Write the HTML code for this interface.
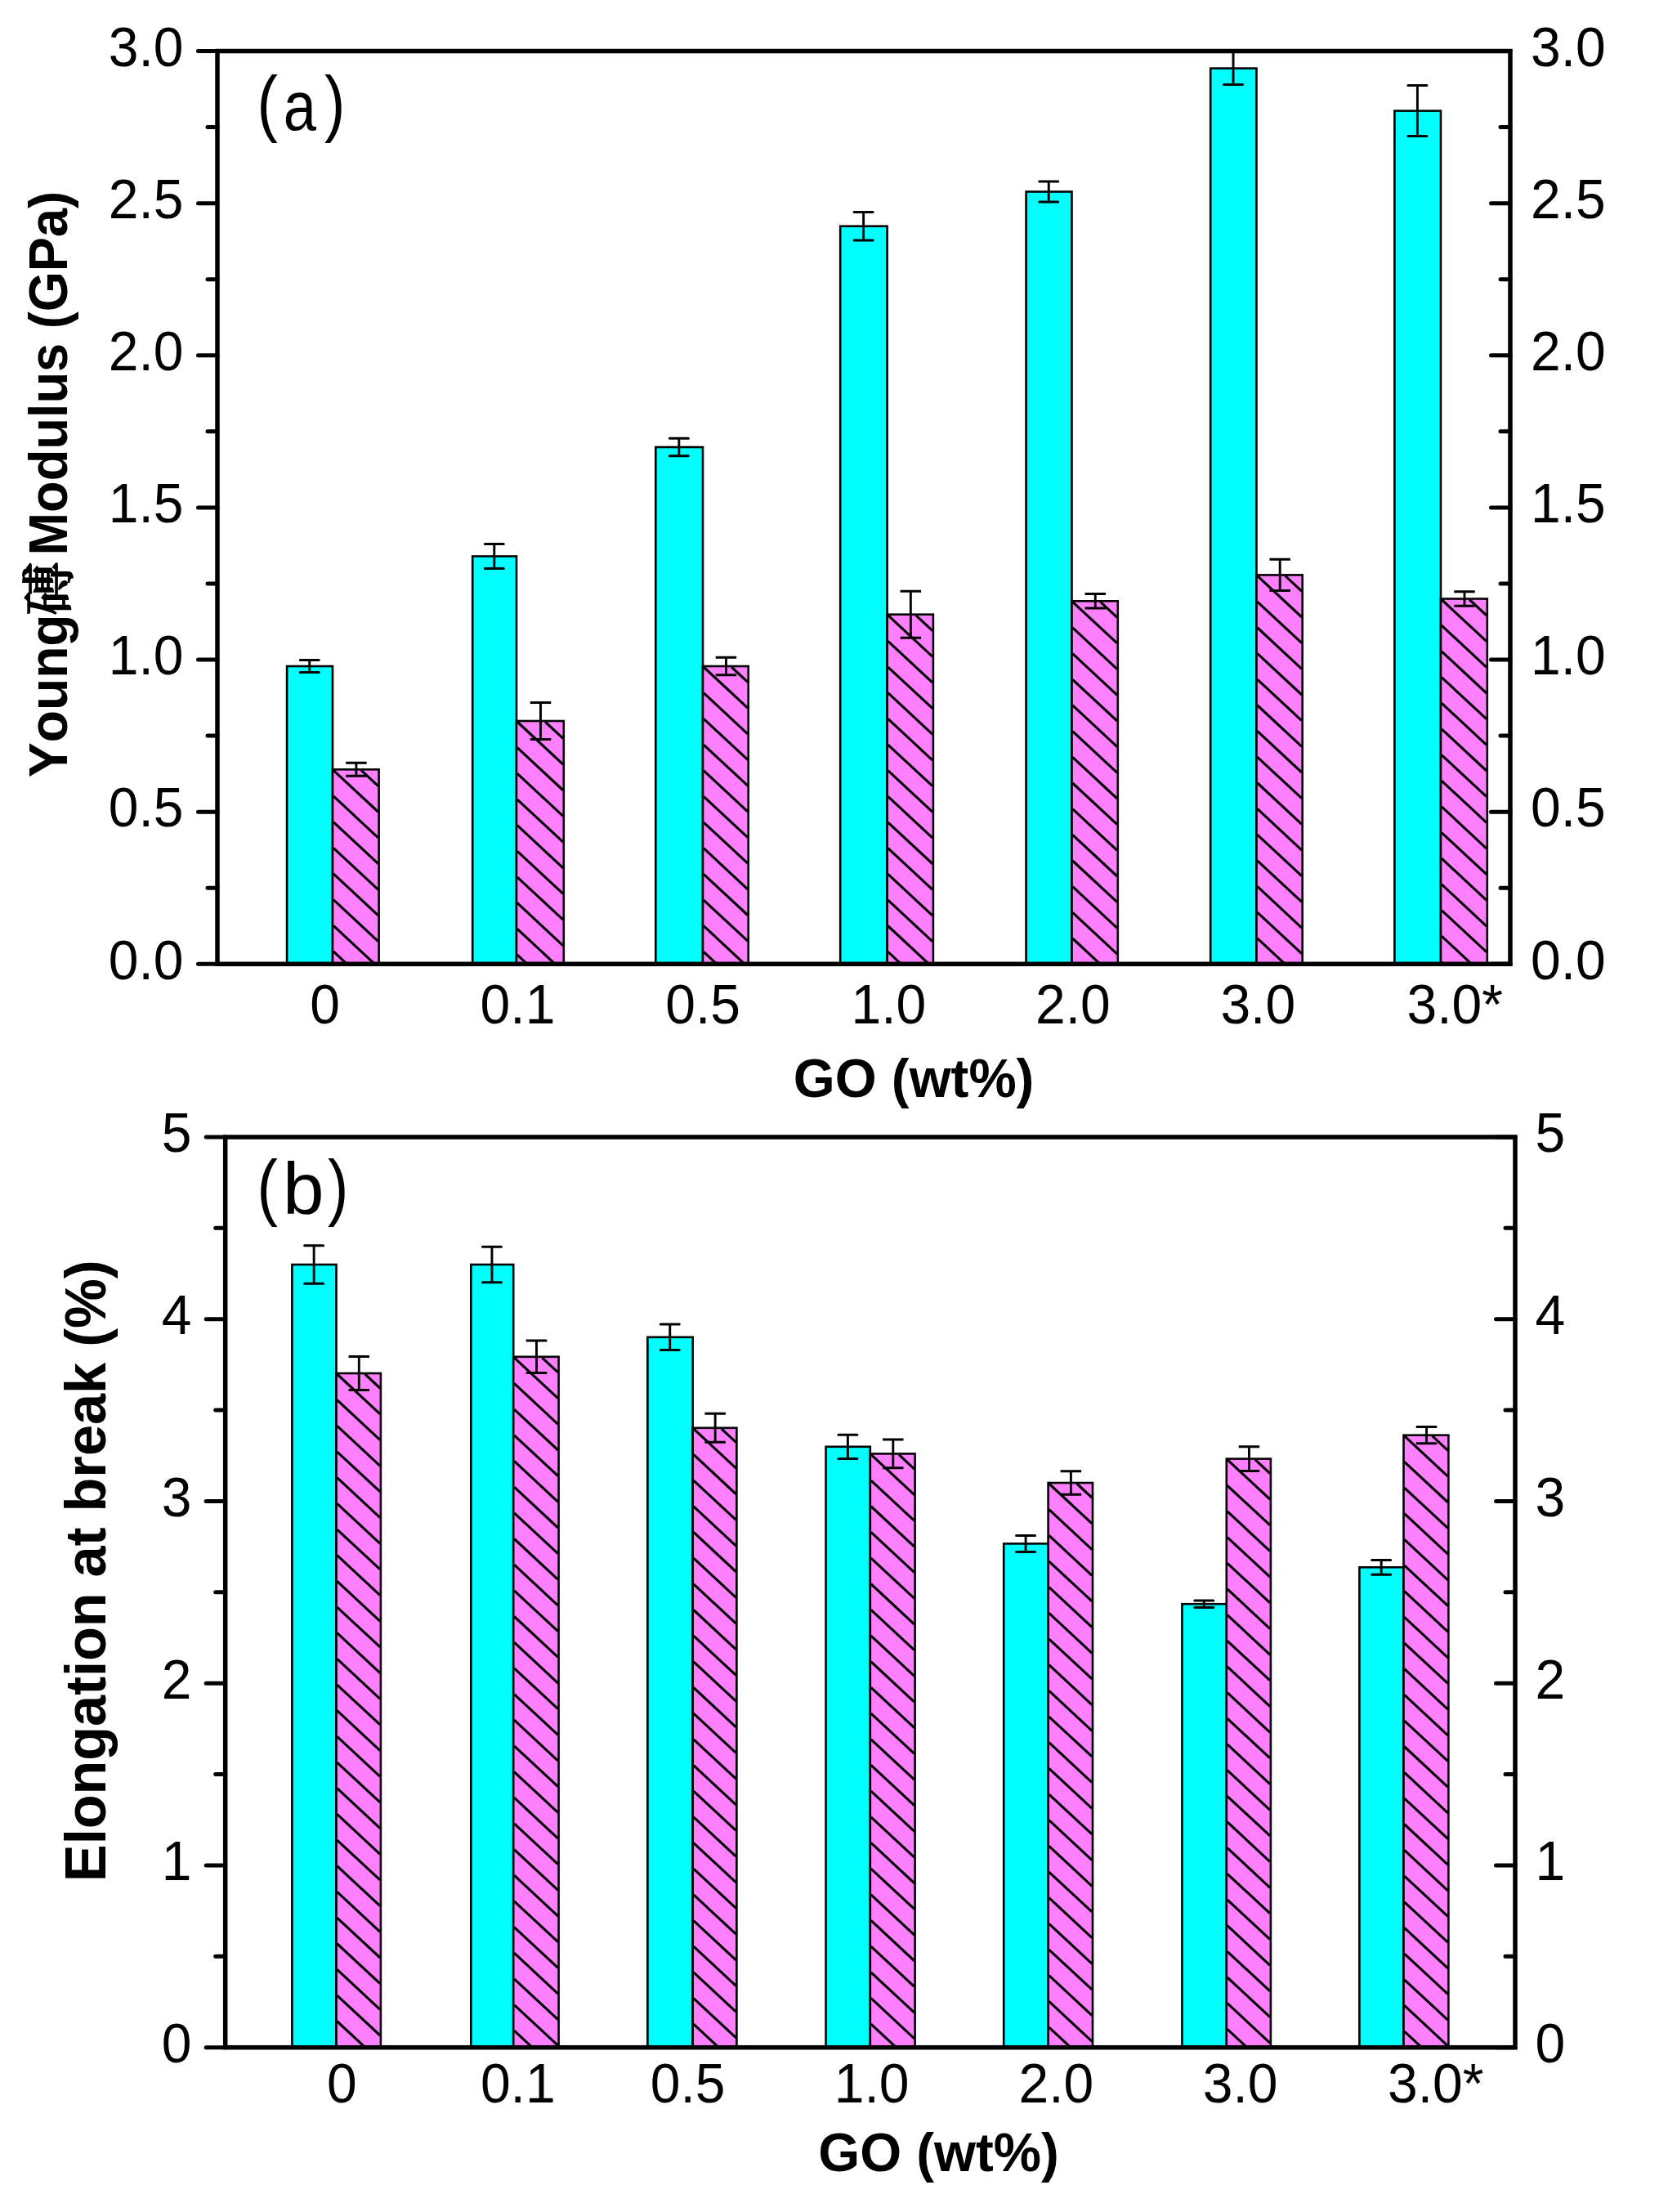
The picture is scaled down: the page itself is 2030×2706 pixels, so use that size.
<!DOCTYPE html><html><head><meta charset="utf-8"><title>Mechanical properties vs GO content</title>
<style>html,body{margin:0;padding:0;background:#fff}svg{display:block}text{font-family:"Liberation Sans","Noto Sans CJK SC",sans-serif;fill:#000;font-kerning:none}</style></head><body>
<svg width="2030" height="2706" viewBox="0 0 2030 2706">
<rect width="2030" height="2706" fill="#fff"/>
<rect x="351.1" y="815" width="55.9" height="364.3" fill="#0ff" stroke="#000" stroke-width="2.6"/>
<rect x="407" y="941.3" width="56.6" height="238" fill="#ff80ff" stroke="#000" stroke-width="2.6"/>
<path d="M442.05 942.3L462.8 961.59M408 942.3L462.8 993.26M408 973.97L462.8 1024.93M408 1005.64L462.8 1056.6M408 1037.31L462.8 1088.27M408 1068.98L462.8 1119.94M408 1100.65L462.8 1151.61M408 1132.32L458.52 1179.3M408 1163.99L424.46 1179.3" stroke="#000" stroke-width="3.1" fill="none"/>
<rect x="578.2" y="680.5" width="53.8" height="498.8" fill="#0ff" stroke="#000" stroke-width="2.6"/>
<rect x="632" y="882" width="57.8" height="297.3" fill="#ff80ff" stroke="#000" stroke-width="2.6"/>
<path d="M667.05 883L689 903.41M633 883L689 935.08M633 914.67L689 966.75M633 946.34L689 998.42M633 978.01L689 1030.09M633 1009.68L689 1061.76M633 1041.35L689 1093.43M633 1073.02L689 1125.1M633 1104.69L689 1156.77M633 1136.36L679.17 1179.3M633 1168.03L645.12 1179.3" stroke="#000" stroke-width="3.1" fill="none"/>
<rect x="802.3" y="547" width="57.7" height="632.3" fill="#0ff" stroke="#000" stroke-width="2.6"/>
<rect x="860" y="815" width="55.7" height="364.3" fill="#ff80ff" stroke="#000" stroke-width="2.6"/>
<path d="M895.05 816L914.9 834.46M861 816L914.9 866.13M861 847.67L914.9 897.8M861 879.34L914.9 929.47M861 911.01L914.9 961.14M861 942.68L914.9 992.81M861 974.35L914.9 1024.48M861 1006.02L914.9 1056.15M861 1037.69L914.9 1087.82M861 1069.36L914.9 1119.49M861 1101.03L914.9 1151.16M861 1132.7L911.11 1179.3M861 1164.37L877.05 1179.3" stroke="#000" stroke-width="3.1" fill="none"/>
<rect x="1028.2" y="276.7" width="57.4" height="902.6" fill="#0ff" stroke="#000" stroke-width="2.6"/>
<rect x="1085.6" y="751.7" width="56.3" height="427.6" fill="#ff80ff" stroke="#000" stroke-width="2.6"/>
<path d="M1120.65 752.7L1141.1 771.72M1086.6 752.7L1141.1 803.38M1086.6 784.37L1141.1 835.06M1086.6 816.04L1141.1 866.73M1086.6 847.71L1141.1 898.39M1086.6 879.38L1141.1 930.07M1086.6 911.05L1141.1 961.74M1086.6 942.72L1141.1 993.4M1086.6 974.39L1141.1 1025.08M1086.6 1006.06L1141.1 1056.75M1086.6 1037.73L1141.1 1088.41M1086.6 1069.4L1141.1 1120.09M1086.6 1101.07L1141.1 1151.76M1086.6 1132.74L1136.66 1179.3M1086.6 1164.41L1102.61 1179.3" stroke="#000" stroke-width="3.1" fill="none"/>
<rect x="1255.6" y="234.5" width="55.9" height="944.8" fill="#0ff" stroke="#000" stroke-width="2.6"/>
<rect x="1311.5" y="735.3" width="56.3" height="444" fill="#ff80ff" stroke="#000" stroke-width="2.6"/>
<path d="M1346.55 736.3L1367 755.32M1312.5 736.3L1367 786.98M1312.5 767.97L1367 818.65M1312.5 799.64L1367 850.33M1312.5 831.31L1367 881.99M1312.5 862.98L1367 913.66M1312.5 894.65L1367 945.34M1312.5 926.32L1367 977M1312.5 957.99L1367 1008.67M1312.5 989.66L1367 1040.35M1312.5 1021.33L1367 1072.01M1312.5 1053L1367 1103.68M1312.5 1084.67L1367 1135.36M1312.5 1116.34L1367 1167.02M1312.5 1148.01L1346.15 1179.3" stroke="#000" stroke-width="3.1" fill="none"/>
<rect x="1481.2" y="83.6" width="56.3" height="1095.7" fill="#0ff" stroke="#000" stroke-width="2.6"/>
<rect x="1537.5" y="703.4" width="56.2" height="475.9" fill="#ff80ff" stroke="#000" stroke-width="2.6"/>
<path d="M1572.55 704.4L1592.9 723.32M1538.5 704.4L1592.9 754.99M1538.5 736.07L1592.9 786.66M1538.5 767.74L1592.9 818.33M1538.5 799.41L1592.9 850M1538.5 831.08L1592.9 881.67M1538.5 862.75L1592.9 913.34M1538.5 894.42L1592.9 945.01M1538.5 926.09L1592.9 976.68M1538.5 957.76L1592.9 1008.35M1538.5 989.43L1592.9 1040.02M1538.5 1021.1L1592.9 1071.69M1538.5 1052.77L1592.9 1103.36M1538.5 1084.44L1592.9 1135.03M1538.5 1116.11L1592.9 1166.7M1538.5 1147.78L1572.39 1179.3" stroke="#000" stroke-width="3.1" fill="none"/>
<rect x="1706.4" y="135.6" width="56.6" height="1043.7" fill="#0ff" stroke="#000" stroke-width="2.6"/>
<rect x="1763" y="732.5" width="56.8" height="446.8" fill="#ff80ff" stroke="#000" stroke-width="2.6"/>
<path d="M1798.05 733.5L1819 752.98M1764 733.5L1819 784.65M1764 765.17L1819 816.32M1764 796.84L1819 847.99M1764 828.51L1819 879.66M1764 860.18L1819 911.33M1764 891.85L1819 943M1764 923.52L1819 974.67M1764 955.19L1819 1006.34M1764 986.86L1819 1038.01M1764 1018.53L1819 1069.68M1764 1050.2L1819 1101.35M1764 1081.87L1819 1133.02M1764 1113.54L1819 1164.69M1764 1145.21L1800.66 1179.3M1764 1176.88L1766.6 1179.3" stroke="#000" stroke-width="3.1" fill="none"/>
<path d="M378.75 807.5V822.5" stroke="#000" stroke-width="2.9" fill="none"/><path d="M367.25 807.5H390.25M367.25 822.5H390.25" stroke="#000" stroke-width="3" fill="none" stroke-linecap="round"/>
<path d="M435.9 933.3V949.3" stroke="#000" stroke-width="2.9" fill="none"/><path d="M423.15 933.3H448.65M423.15 949.3H448.65" stroke="#000" stroke-width="3" fill="none"/>
<path d="M604.8 665.5V695.5" stroke="#000" stroke-width="2.9" fill="none"/><path d="M593.3 665.5H616.3M593.3 695.5H616.3" stroke="#000" stroke-width="3" fill="none" stroke-linecap="round"/>
<path d="M661.5 859.5V904.5" stroke="#000" stroke-width="2.9" fill="none"/><path d="M648.75 859.5H674.25M648.75 904.5H674.25" stroke="#000" stroke-width="3" fill="none"/>
<path d="M830.85 536.3V557.7" stroke="#000" stroke-width="2.9" fill="none"/><path d="M819.35 536.3H842.35M819.35 557.7H842.35" stroke="#000" stroke-width="3" fill="none" stroke-linecap="round"/>
<path d="M888.45 804.3V825.7" stroke="#000" stroke-width="2.9" fill="none"/><path d="M875.7 804.3H901.2M875.7 825.7H901.2" stroke="#000" stroke-width="3" fill="none"/>
<path d="M1056.6 259.4V294" stroke="#000" stroke-width="2.9" fill="none"/><path d="M1045.1 259.4H1068.1M1045.1 294H1068.1" stroke="#000" stroke-width="3" fill="none" stroke-linecap="round"/>
<path d="M1114.35 723.2V780.2" stroke="#000" stroke-width="2.9" fill="none"/><path d="M1101.6 723.2H1127.1M1101.6 780.2H1127.1" stroke="#000" stroke-width="3" fill="none"/>
<path d="M1283.25 222V247" stroke="#000" stroke-width="2.9" fill="none"/><path d="M1271.75 222H1294.75M1271.75 247H1294.75" stroke="#000" stroke-width="3" fill="none" stroke-linecap="round"/>
<path d="M1340.25 726.5V744.1" stroke="#000" stroke-width="2.9" fill="none"/><path d="M1327.5 726.5H1353M1327.5 744.1H1353" stroke="#000" stroke-width="3" fill="none"/>
<path d="M1509.05 63.8V103.4" stroke="#000" stroke-width="2.9" fill="none"/><path d="M1497.55 103.4H1520.55" stroke="#000" stroke-width="3" fill="none" stroke-linecap="round"/>
<path d="M1566.2 684.2V722.6" stroke="#000" stroke-width="2.9" fill="none"/><path d="M1553.45 684.2H1578.95M1553.45 722.6H1578.95" stroke="#000" stroke-width="3" fill="none"/>
<path d="M1734.4 104.6V166.6" stroke="#000" stroke-width="2.9" fill="none"/><path d="M1722.9 104.6H1745.9M1722.9 166.6H1745.9" stroke="#000" stroke-width="3" fill="none" stroke-linecap="round"/>
<path d="M1792 723.7V741.3" stroke="#000" stroke-width="2.9" fill="none"/><path d="M1779.25 723.7H1804.75M1779.25 741.3H1804.75" stroke="#000" stroke-width="3" fill="none"/>
<rect x="266" y="62.5" width="1582" height="1116.8" fill="none" stroke="#000" stroke-width="5.5"/>
<path d="M266 62.5H242.5M1848 62.5H1824.5M266 155.57H254M1848 155.57H1836M266 248.63H242.5M1848 248.63H1824.5M266 341.7H254M1848 341.7H1836M266 434.77H242.5M1848 434.77H1824.5M266 527.83H254M1848 527.83H1836M266 620.9H242.5M1848 620.9H1824.5M266 713.97H254M1848 713.97H1836M266 807.03H242.5M1848 807.03H1824.5M266 900.1H254M1848 900.1H1836M266 993.17H242.5M1848 993.17H1824.5M266 1086.23H254M1848 1086.23H1836M266 1179.3H242.5M1848 1179.3H1824.5" stroke="#000" stroke-width="5" stroke-linecap="round" fill="none"/>
<text transform="translate(224.5 80.8) scale(1 1.05)" text-anchor="end" font-size="66">3.0</text>
<text transform="translate(1873 80.8) scale(1 1.05)" font-size="66">3.0</text>
<text transform="translate(224.5 266.93) scale(1 1.05)" text-anchor="end" font-size="66">2.5</text>
<text transform="translate(1873 266.93) scale(1 1.05)" font-size="66">2.5</text>
<text transform="translate(224.5 453.07) scale(1 1.05)" text-anchor="end" font-size="66">2.0</text>
<text transform="translate(1873 453.07) scale(1 1.05)" font-size="66">2.0</text>
<text transform="translate(224.5 639.2) scale(1 1.05)" text-anchor="end" font-size="66">1.5</text>
<text transform="translate(1873 639.2) scale(1 1.05)" font-size="66">1.5</text>
<text transform="translate(224.5 825.33) scale(1 1.05)" text-anchor="end" font-size="66">1.0</text>
<text transform="translate(1873 825.33) scale(1 1.05)" font-size="66">1.0</text>
<text transform="translate(224.5 1011.47) scale(1 1.05)" text-anchor="end" font-size="66">0.5</text>
<text transform="translate(1873 1011.47) scale(1 1.05)" font-size="66">0.5</text>
<text transform="translate(224.5 1197.6) scale(1 1.05)" text-anchor="end" font-size="66">0.0</text>
<text transform="translate(1873 1197.6) scale(1 1.05)" font-size="66">0.0</text>
<text transform="translate(379.3 1251.5) scale(1 1.05)" font-size="66">0</text>
<text transform="translate(587.6 1251.5) scale(1 1.05)" font-size="66">0.1</text>
<text transform="translate(814.2 1251.5) scale(1 1.05)" font-size="66">0.5</text>
<text transform="translate(1041.5 1251.5) scale(1 1.05)" font-size="66">1.0</text>
<text transform="translate(1267 1251.5) scale(1 1.05)" font-size="66">2.0</text>
<text transform="translate(1493.4 1251.5) scale(1 1.05)" font-size="66">3.0</text>
<text transform="translate(1721.5 1251.5) scale(1 1.05)" font-size="66">3.0*</text>
<text transform="translate(970.8 1342) scale(1 1.03)" font-size="65.5" font-weight="bold">GO (wt%)</text>
<text transform="translate(314.5 156) scale(0.85 1)" font-size="89.7">(</text>
<text transform="translate(346.8 158.9) scale(0.85 1)" font-size="85">a</text>
<text transform="translate(397 156) scale(0.85 1)" font-size="89.7">)</text>
<text transform="translate(82.3 951) rotate(-90) scale(0.965 1)" font-size="66.5" font-weight="bold">Young</text>
<text transform="translate(83.3 752.5) rotate(-90) scale(1.0 1)" font-size="65" font-weight="bold" style="font-family:'Liberation Serif','Noto Serif CJK SC','Noto Sans CJK SC',serif;font-weight:500" stroke="#000" stroke-width="1.8">磗</text>
<text transform="translate(82.3 679.5) rotate(-90) scale(0.95 1)" font-size="66.5" font-weight="bold">Modulus (GPa)</text>
<rect x="357.4" y="1547" width="54.1" height="957.7" fill="#0ff" stroke="#000" stroke-width="2.6"/>
<rect x="411.5" y="1680" width="54.4" height="824.7" fill="#ff80ff" stroke="#000" stroke-width="2.6"/>
<path d="M446.55 1681L465.1 1698.25M412.5 1681L465.1 1729.92M412.5 1712.67L465.1 1761.59M412.5 1744.34L465.1 1793.26M412.5 1776.01L465.1 1824.93M412.5 1807.68L465.1 1856.6M412.5 1839.35L465.1 1888.27M412.5 1871.02L465.1 1919.94M412.5 1902.69L465.1 1951.61M412.5 1934.36L465.1 1983.28M412.5 1966.03L465.1 2014.95M412.5 1997.7L465.1 2046.62M412.5 2029.37L465.1 2078.29M412.5 2061.04L465.1 2109.96M412.5 2092.71L465.1 2141.63M412.5 2124.38L465.1 2173.3M412.5 2156.05L465.1 2204.97M412.5 2187.72L465.1 2236.64M412.5 2219.39L465.1 2268.31M412.5 2251.06L465.1 2299.98M412.5 2282.73L465.1 2331.65M412.5 2314.4L465.1 2363.32M412.5 2346.07L465.1 2394.99M412.5 2377.74L465.1 2426.66M412.5 2409.41L465.1 2458.33M412.5 2441.08L465.1 2490M412.5 2472.75L446.85 2504.7" stroke="#000" stroke-width="3.1" fill="none"/>
<rect x="576.3" y="1547" width="51.9" height="957.7" fill="#0ff" stroke="#000" stroke-width="2.6"/>
<rect x="628.2" y="1659.8" width="55.4" height="844.9" fill="#ff80ff" stroke="#000" stroke-width="2.6"/>
<path d="M663.25 1660.8L682.8 1678.98M629.2 1660.8L682.8 1710.65M629.2 1692.47L682.8 1742.32M629.2 1724.14L682.8 1773.99M629.2 1755.81L682.8 1805.66M629.2 1787.48L682.8 1837.33M629.2 1819.15L682.8 1869M629.2 1850.82L682.8 1900.67M629.2 1882.49L682.8 1932.34M629.2 1914.16L682.8 1964.01M629.2 1945.83L682.8 1995.68M629.2 1977.5L682.8 2027.35M629.2 2009.17L682.8 2059.02M629.2 2040.84L682.8 2090.69M629.2 2072.51L682.8 2122.36M629.2 2104.18L682.8 2154.03M629.2 2135.85L682.8 2185.7M629.2 2167.52L682.8 2217.37M629.2 2199.19L682.8 2249.04M629.2 2230.86L682.8 2280.71M629.2 2262.53L682.8 2312.38M629.2 2294.2L682.8 2344.05M629.2 2325.87L682.8 2375.72M629.2 2357.54L682.8 2407.39M629.2 2389.21L682.8 2439.06M629.2 2420.88L682.8 2470.73M629.2 2452.55L682.8 2502.4M629.2 2484.22L651.22 2504.7" stroke="#000" stroke-width="3.1" fill="none"/>
<rect x="792.4" y="1635.8" width="55.3" height="868.9" fill="#0ff" stroke="#000" stroke-width="2.6"/>
<rect x="847.7" y="1746.8" width="53.7" height="757.9" fill="#ff80ff" stroke="#000" stroke-width="2.6"/>
<path d="M882.75 1747.8L900.6 1764.4M848.7 1747.8L900.6 1796.07M848.7 1779.47L900.6 1827.74M848.7 1811.14L900.6 1859.41M848.7 1842.81L900.6 1891.08M848.7 1874.48L900.6 1922.75M848.7 1906.15L900.6 1954.42M848.7 1937.82L900.6 1986.09M848.7 1969.49L900.6 2017.76M848.7 2001.16L900.6 2049.43M848.7 2032.83L900.6 2081.1M848.7 2064.5L900.6 2112.77M848.7 2096.17L900.6 2144.44M848.7 2127.84L900.6 2176.11M848.7 2159.51L900.6 2207.78M848.7 2191.18L900.6 2239.45M848.7 2222.85L900.6 2271.12M848.7 2254.52L900.6 2302.79M848.7 2286.19L900.6 2334.46M848.7 2317.86L900.6 2366.13M848.7 2349.53L900.6 2397.8M848.7 2381.2L900.6 2429.47M848.7 2412.87L900.6 2461.14M848.7 2444.54L900.6 2492.81M848.7 2476.21L879.33 2504.7" stroke="#000" stroke-width="3.1" fill="none"/>
<rect x="1010.6" y="1769.8" width="54.2" height="734.9" fill="#0ff" stroke="#000" stroke-width="2.6"/>
<rect x="1064.8" y="1778.4" width="54.8" height="726.3" fill="#ff80ff" stroke="#000" stroke-width="2.6"/>
<path d="M1099.85 1779.4L1118.8 1797.02M1065.8 1779.4L1118.8 1828.69M1065.8 1811.07L1118.8 1860.36M1065.8 1842.74L1118.8 1892.03M1065.8 1874.41L1118.8 1923.7M1065.8 1906.08L1118.8 1955.37M1065.8 1937.75L1118.8 1987.04M1065.8 1969.42L1118.8 2018.71M1065.8 2001.09L1118.8 2050.38M1065.8 2032.76L1118.8 2082.05M1065.8 2064.43L1118.8 2113.72M1065.8 2096.1L1118.8 2145.39M1065.8 2127.77L1118.8 2177.06M1065.8 2159.44L1118.8 2208.73M1065.8 2191.11L1118.8 2240.4M1065.8 2222.78L1118.8 2272.07M1065.8 2254.45L1118.8 2303.74M1065.8 2286.12L1118.8 2335.41M1065.8 2317.79L1118.8 2367.08M1065.8 2349.46L1118.8 2398.75M1065.8 2381.13L1118.8 2430.42M1065.8 2412.8L1118.8 2462.09M1065.8 2444.47L1118.8 2493.76M1065.8 2476.14L1096.51 2504.7" stroke="#000" stroke-width="3.1" fill="none"/>
<rect x="1228.2" y="1888.4" width="54.4" height="616.3" fill="#0ff" stroke="#000" stroke-width="2.6"/>
<rect x="1282.6" y="1814" width="54.4" height="690.7" fill="#ff80ff" stroke="#000" stroke-width="2.6"/>
<path d="M1317.65 1815L1336.2 1832.25M1283.6 1815L1336.2 1863.92M1283.6 1846.67L1336.2 1895.59M1283.6 1878.34L1336.2 1927.26M1283.6 1910.01L1336.2 1958.93M1283.6 1941.68L1336.2 1990.6M1283.6 1973.35L1336.2 2022.27M1283.6 2005.02L1336.2 2053.94M1283.6 2036.69L1336.2 2085.61M1283.6 2068.36L1336.2 2117.28M1283.6 2100.03L1336.2 2148.95M1283.6 2131.7L1336.2 2180.62M1283.6 2163.37L1336.2 2212.29M1283.6 2195.04L1336.2 2243.96M1283.6 2226.71L1336.2 2275.63M1283.6 2258.38L1336.2 2307.3M1283.6 2290.05L1336.2 2338.97M1283.6 2321.72L1336.2 2370.64M1283.6 2353.39L1336.2 2402.31M1283.6 2385.06L1336.2 2433.98M1283.6 2416.73L1336.2 2465.65M1283.6 2448.4L1336.2 2497.32M1283.6 2480.07L1310.08 2504.7" stroke="#000" stroke-width="3.1" fill="none"/>
<rect x="1446.4" y="1962.2" width="54.4" height="542.5" fill="#0ff" stroke="#000" stroke-width="2.6"/>
<rect x="1500.8" y="1784.6" width="54.1" height="720.1" fill="#ff80ff" stroke="#000" stroke-width="2.6"/>
<path d="M1535.85 1785.6L1554.1 1802.57M1501.8 1785.6L1554.1 1834.24M1501.8 1817.27L1554.1 1865.91M1501.8 1848.94L1554.1 1897.58M1501.8 1880.61L1554.1 1929.25M1501.8 1912.28L1554.1 1960.92M1501.8 1943.95L1554.1 1992.59M1501.8 1975.62L1554.1 2024.26M1501.8 2007.29L1554.1 2055.93M1501.8 2038.96L1554.1 2087.6M1501.8 2070.63L1554.1 2119.27M1501.8 2102.3L1554.1 2150.94M1501.8 2133.97L1554.1 2182.61M1501.8 2165.64L1554.1 2214.28M1501.8 2197.31L1554.1 2245.95M1501.8 2228.98L1554.1 2277.62M1501.8 2260.65L1554.1 2309.29M1501.8 2292.32L1554.1 2340.96M1501.8 2323.99L1554.1 2372.63M1501.8 2355.66L1554.1 2404.3M1501.8 2387.33L1554.1 2435.97M1501.8 2419L1554.1 2467.64M1501.8 2450.67L1554.1 2499.31M1501.8 2482.34L1525.84 2504.7" stroke="#000" stroke-width="3.1" fill="none"/>
<rect x="1663.4" y="1917.3" width="54.1" height="587.4" fill="#0ff" stroke="#000" stroke-width="2.6"/>
<rect x="1717.5" y="1755.7" width="54.9" height="749" fill="#ff80ff" stroke="#000" stroke-width="2.6"/>
<path d="M1752.55 1756.7L1771.6 1774.41M1718.5 1756.7L1771.6 1806.08M1718.5 1788.37L1771.6 1837.75M1718.5 1820.04L1771.6 1869.42M1718.5 1851.71L1771.6 1901.09M1718.5 1883.38L1771.6 1932.76M1718.5 1915.05L1771.6 1964.43M1718.5 1946.72L1771.6 1996.1M1718.5 1978.39L1771.6 2027.77M1718.5 2010.06L1771.6 2059.44M1718.5 2041.73L1771.6 2091.11M1718.5 2073.4L1771.6 2122.78M1718.5 2105.07L1771.6 2154.45M1718.5 2136.74L1771.6 2186.12M1718.5 2168.41L1771.6 2217.79M1718.5 2200.08L1771.6 2249.46M1718.5 2231.75L1771.6 2281.13M1718.5 2263.42L1771.6 2312.8M1718.5 2295.09L1771.6 2344.47M1718.5 2326.76L1771.6 2376.14M1718.5 2358.43L1771.6 2407.81M1718.5 2390.1L1771.6 2439.48M1718.5 2421.77L1771.6 2471.15M1718.5 2453.44L1771.6 2502.82M1718.5 2485.11L1739.56 2504.7" stroke="#000" stroke-width="3.1" fill="none"/>
<path d="M384.15 1523.8V1570.2" stroke="#000" stroke-width="2.9" fill="none"/><path d="M372.65 1523.8H395.65M372.65 1570.2H395.65" stroke="#000" stroke-width="3" fill="none" stroke-linecap="round"/>
<path d="M439.3 1659.4V1700.6" stroke="#000" stroke-width="2.9" fill="none"/><path d="M426.55 1659.4H452.05M426.55 1700.6H452.05" stroke="#000" stroke-width="3" fill="none"/>
<path d="M601.95 1525.2V1568.8" stroke="#000" stroke-width="2.9" fill="none"/><path d="M590.45 1525.2H613.45M590.45 1568.8H613.45" stroke="#000" stroke-width="3" fill="none" stroke-linecap="round"/>
<path d="M656.5 1640V1679.6" stroke="#000" stroke-width="2.9" fill="none"/><path d="M643.75 1640H669.25M643.75 1679.6H669.25" stroke="#000" stroke-width="3" fill="none"/>
<path d="M819.75 1620V1651.6" stroke="#000" stroke-width="2.9" fill="none"/><path d="M808.25 1620H831.25M808.25 1651.6H831.25" stroke="#000" stroke-width="3" fill="none" stroke-linecap="round"/>
<path d="M875.15 1729.3V1764.3" stroke="#000" stroke-width="2.9" fill="none"/><path d="M862.4 1729.3H887.9M862.4 1764.3H887.9" stroke="#000" stroke-width="3" fill="none"/>
<path d="M1037.4 1755.2V1784.4" stroke="#000" stroke-width="2.9" fill="none"/><path d="M1025.9 1755.2H1048.9M1025.9 1784.4H1048.9" stroke="#000" stroke-width="3" fill="none" stroke-linecap="round"/>
<path d="M1092.8 1761.1V1795.7" stroke="#000" stroke-width="2.9" fill="none"/><path d="M1080.05 1761.1H1105.55M1080.05 1795.7H1105.55" stroke="#000" stroke-width="3" fill="none"/>
<path d="M1255.1 1878.4V1898.4" stroke="#000" stroke-width="2.9" fill="none"/><path d="M1243.6 1878.4H1266.6M1243.6 1898.4H1266.6" stroke="#000" stroke-width="3" fill="none" stroke-linecap="round"/>
<path d="M1310.4 1799.8V1828.2" stroke="#000" stroke-width="2.9" fill="none"/><path d="M1297.65 1799.8H1323.15M1297.65 1828.2H1323.15" stroke="#000" stroke-width="3" fill="none"/>
<path d="M1473.3 1958V1966.4" stroke="#000" stroke-width="2.9" fill="none"/><path d="M1461.8 1958H1484.8M1461.8 1966.4H1484.8" stroke="#000" stroke-width="3" fill="none" stroke-linecap="round"/>
<path d="M1528.45 1769.8V1799.4" stroke="#000" stroke-width="2.9" fill="none"/><path d="M1515.7 1769.8H1541.2M1515.7 1799.4H1541.2" stroke="#000" stroke-width="3" fill="none"/>
<path d="M1690.15 1908.4V1926.2" stroke="#000" stroke-width="2.9" fill="none"/><path d="M1678.65 1908.4H1701.65M1678.65 1926.2H1701.65" stroke="#000" stroke-width="3" fill="none" stroke-linecap="round"/>
<path d="M1745.55 1745.6V1765.8" stroke="#000" stroke-width="2.9" fill="none"/><path d="M1732.8 1745.6H1758.3M1732.8 1765.8H1758.3" stroke="#000" stroke-width="3" fill="none"/>
<rect x="275.7" y="1391" width="1578.3" height="1113.7" fill="none" stroke="#000" stroke-width="5.5"/>
<path d="M275.7 1391H252.2M1854 1391H1830.5M275.7 1502.37H263.7M1854 1502.37H1842M275.7 1613.74H252.2M1854 1613.74H1830.5M275.7 1725.11H263.7M1854 1725.11H1842M275.7 1836.48H252.2M1854 1836.48H1830.5M275.7 1947.85H263.7M1854 1947.85H1842M275.7 2059.22H252.2M1854 2059.22H1830.5M275.7 2170.59H263.7M1854 2170.59H1842M275.7 2281.96H252.2M1854 2281.96H1830.5M275.7 2393.33H263.7M1854 2393.33H1842M275.7 2504.7H252.2M1854 2504.7H1830.5" stroke="#000" stroke-width="5" stroke-linecap="round" fill="none"/>
<text transform="translate(234.5 1409.3) scale(1 1.05)" text-anchor="end" font-size="66">5</text>
<text transform="translate(1878.5 1409.3) scale(1 1.05)" font-size="66">5</text>
<text transform="translate(234.5 1632.04) scale(1 1.05)" text-anchor="end" font-size="66">4</text>
<text transform="translate(1878.5 1632.04) scale(1 1.05)" font-size="66">4</text>
<text transform="translate(234.5 1854.78) scale(1 1.05)" text-anchor="end" font-size="66">3</text>
<text transform="translate(1878.5 1854.78) scale(1 1.05)" font-size="66">3</text>
<text transform="translate(234.5 2077.52) scale(1 1.05)" text-anchor="end" font-size="66">2</text>
<text transform="translate(1878.5 2077.52) scale(1 1.05)" font-size="66">2</text>
<text transform="translate(234.5 2300.26) scale(1 1.05)" text-anchor="end" font-size="66">1</text>
<text transform="translate(1878.5 2300.26) scale(1 1.05)" font-size="66">1</text>
<text transform="translate(234.5 2523) scale(1 1.05)" text-anchor="end" font-size="66">0</text>
<text transform="translate(1878.5 2523) scale(1 1.05)" font-size="66">0</text>
<text transform="translate(399.9 2572) scale(1 1.05)" font-size="66">0</text>
<text transform="translate(587.9 2572) scale(1 1.05)" font-size="66">0.1</text>
<text transform="translate(795.7 2572) scale(1 1.05)" font-size="66">0.5</text>
<text transform="translate(1020.8 2572) scale(1 1.05)" font-size="66">1.0</text>
<text transform="translate(1246.5 2572) scale(1 1.05)" font-size="66">2.0</text>
<text transform="translate(1471.8 2572) scale(1 1.05)" font-size="66">3.0</text>
<text transform="translate(1698 2572) scale(1 1.05)" font-size="66">3.0*</text>
<text transform="translate(1001.2 2655.5) scale(1 1.03)" font-size="65.5" font-weight="bold">GO (wt%)</text>
<text transform="translate(314.5 1482) scale(0.85 1)" font-size="89.7">(</text>
<text transform="translate(345.9 1484.8) scale(1.02 1)" font-size="89">b</text>
<text transform="translate(401 1482) scale(0.85 1)" font-size="89.7">)</text>
<text transform="translate(129 2302) rotate(-90) scale(0.985 1)" font-size="69.5" font-weight="bold">Elongation at break (%)</text>
</svg></body></html>
